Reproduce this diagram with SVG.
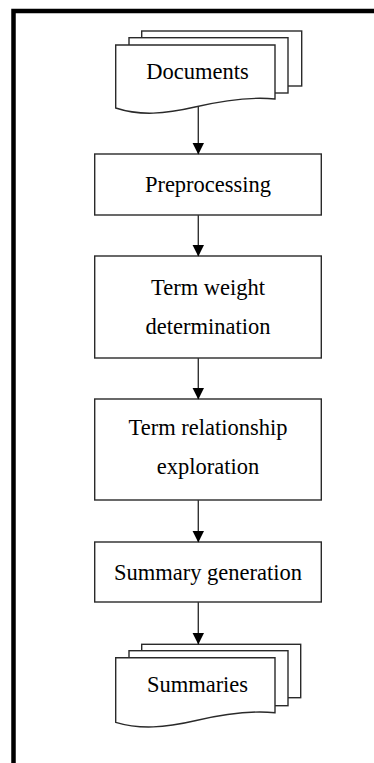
<svg xmlns="http://www.w3.org/2000/svg" width="374" height="763" viewBox="0 0 374 763">
  <style>
    .frame { fill: none; stroke: #000; stroke-width: 4.5; }
    .box { fill: #fff; stroke: #2a2a2a; stroke-width: 1.4; }
    .label { font-family: "Liberation Serif", "Times New Roman", serif; font-size: 22.5px; fill: #000; text-anchor: middle; }
    .link { stroke: #333; stroke-width: 1.4; fill: none; marker-end: url(#head); }
  </style>
  <defs>
    <marker id="head" markerUnits="userSpaceOnUse" markerWidth="12" markerHeight="13" refX="11.5" refY="6" orient="auto">
      <path d="M0,0 L12,6 L0,12 Z" fill="#000"/>
    </marker>
  </defs>

  <rect width="374" height="763" fill="#fff"/>

  <!-- outer frame: only left and top edges fall inside the canvas -->
  <path class="frame" d="M13.5,763 V11 H374"/>

  <!-- input document stack -->
  <g id="documents">
    <rect class="box" x="141.7" y="31" width="160" height="55"/>
    <rect class="box" x="129" y="37.7" width="159" height="55.3"/>
    <path class="box" d="M115.7,45 H275 V99 C255,97 225,100 195,107 C165,114 140,116 115.7,108 Z"/>
    <text class="label" x="197.5" y="79">Documents</text>
  </g>

  <g id="preprocessing">
    <rect class="box" x="94.7" y="154" width="226.6" height="61"/>
    <text class="label" x="208" y="192">Preprocessing</text>
  </g>

  <g id="term-weight">
    <rect class="box" x="94.7" y="256" width="226.6" height="102"/>
    <text class="label" x="208" y="295">Term weight</text>
    <text class="label" x="208" y="334">determination</text>
  </g>

  <g id="term-relationship">
    <rect class="box" x="94.7" y="399" width="226.6" height="101"/>
    <text class="label" x="208" y="435">Term relationship</text>
    <text class="label" x="208" y="474">exploration</text>
  </g>

  <g id="summary-generation">
    <rect class="box" x="94.7" y="542" width="226.6" height="60"/>
    <text class="label" x="208" y="579.5">Summary generation</text>
  </g>

  <!-- output document stack -->
  <g id="summaries">
    <rect class="box" x="141.7" y="644.3" width="159" height="53.4"/>
    <rect class="box" x="129" y="650.7" width="159" height="55"/>
    <path class="box" d="M115.7,657.7 H275 V712.7 C255,710.7 225,713.7 195,720.7 C165,727.7 140,729.7 115.7,722.3 Z"/>
    <text class="label" x="197.5" y="691.5">Summaries</text>
  </g>

  <g id="connectors">
    <line class="link" x1="198.3" y1="107" x2="198.3" y2="154"/>
    <line class="link" x1="198.3" y1="215" x2="198.3" y2="256"/>
    <line class="link" x1="198.3" y1="358" x2="198.3" y2="399"/>
    <line class="link" x1="198.3" y1="500" x2="198.3" y2="542"/>
    <line class="link" x1="198.3" y1="602" x2="198.3" y2="644"/>
  </g>
</svg>
